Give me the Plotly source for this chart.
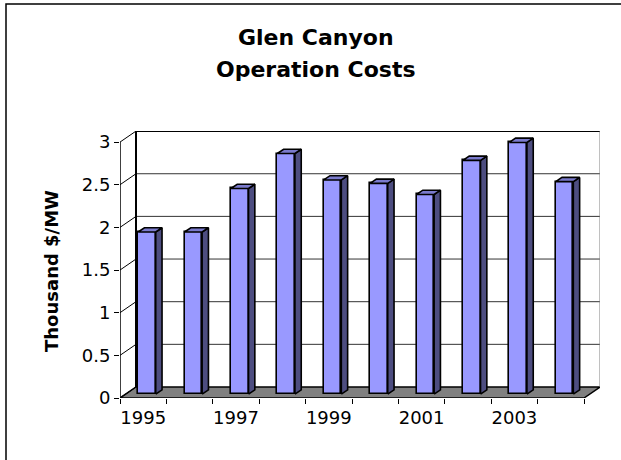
import plotly.graph_objects as go

# ---- data ----
years = ["1995", "1996", "1997", "1998", "1999", "2000", "2001", "2002", "2003", "2004"]
costs = [1.90, 1.90, 2.41, 2.82, 2.51, 2.47, 2.34, 2.74, 2.95, 2.49]
y_ticks = [0, 0.5, 1, 1.5, 2, 2.5, 3]
label_years = ["1995", "1997", "1999", "2001", "2003"]

# ---- 3D-look geometry (style constants, in axis units) ----
DX, DY = 0.345, 0.129          # depth of floor / walls
FX, FY = 0.124, 0.046          # front plane of the bars
BDX, BDY = 0.136, 0.050        # depth of each bar
BAR_W = 0.38
BAR_LEFT = 0.39                # offset of bar front face from category start

n = len(years)
idx = list(range(n))
ymax = y_ticks[-1]

FONT = "DejaVu Sans"
fig = go.Figure()

# front faces as real bars
centers = [i - 0.5 + BAR_LEFT + BAR_W / 2 for i in idx]
fig.add_trace(go.Bar(
    x=centers, y=costs, base=FY, width=BAR_W,
    marker=dict(color="#9999FF", line=dict(color="black", width=1.6)),
    hoverinfo="skip", showlegend=False))

# side and top faces computed from the same values
sx, sy, tx, ty = [], [], [], []
for c, v in zip(centers, costs):
    xl, xr = c - BAR_W / 2, c + BAR_W / 2
    top = FY + v
    sx += [xr, xr + BDX, xr + BDX, xr, xr, None]
    sy += [FY, FY + BDY, top + BDY, top, FY, None]
    tx += [xl, xr, xr + BDX, xl + BDX, xl, None]
    ty += [top, top, top + BDY, top + BDY, top, None]
fig.add_trace(go.Scatter(x=sx, y=sy, mode="lines", fill="toself", fillcolor="#4d4d80",
                         line=dict(color="black", width=1.6), hoverinfo="skip", showlegend=False))
fig.add_trace(go.Scatter(x=tx, y=ty, mode="lines", fill="toself", fillcolor="#7a7acc",
                         line=dict(color="black", width=1.6), hoverinfo="skip", showlegend=False))

# ---- walls, floor, gridlines as shapes (below traces) ----
x0, x1 = -0.5, n - 0.5
shapes = []
# floor
shapes.append(dict(type="path", xref="x", yref="y", layer="below",
                   path=f"M {x0},0 L {x1},0 L {x1+DX},{DY} L {x0+DX},{DY} Z",
                   fillcolor="#808080", line=dict(color="black", width=1.5)))
# back-wall gridlines and left-wall diagonals
for v in y_ticks:
    if 0 < v < ymax:
        shapes.append(dict(type="line", xref="x", yref="y", layer="below",
                           x0=x0 + DX, x1=x1 + DX, y0=v + DY, y1=v + DY,
                           line=dict(color="#333333", width=1)))
    shapes.append(dict(type="line", xref="x", yref="y", layer="below",
                       x0=x0, x1=x0 + DX, y0=v, y1=v + DY,
                       line=dict(color="black", width=1)))
# back wall top and left edge
shapes.append(dict(type="line", xref="x", yref="y", layer="below",
                   x0=x0 + DX, x1=x1 + DX, y0=ymax + DY, y1=ymax + DY,
                   line=dict(color="black", width=2)))
shapes.append(dict(type="line", xref="x", yref="y", layer="below",
                   x0=x0 + DX, x1=x0 + DX, y0=DY, y1=ymax + DY,
                   line=dict(color="black", width=2)))
# back wall right edge
shapes.append(dict(type="line", xref="x", yref="y", layer="below",
                   x0=x1 + DX, x1=x1 + DX, y0=DY, y1=ymax + DY,
                   line=dict(color="#808080", width=1)))
# front value axis
shapes.append(dict(type="line", xref="x", yref="y", layer="below",
                   x0=x0, x1=x0, y0=0, y1=ymax, line=dict(color="black", width=1.5)))
# chart border (top and left visible)
shapes.append(dict(type="rect", xref="paper", yref="paper", layer="below",
                   x0=(6 - 120) / 480, x1=(640 - 120) / 480,
                   y0=(398 - 480) / 267, y1=(398 - 4) / 267,
                   line=dict(color="black", width=1.5)))

annotations = [
    dict(text="<b>Glen Canyon</b>", xref="paper", yref="paper",
         x=(316 - 120) / 480, y=(398 - 37.4) / 267, xanchor="center", yanchor="middle",
         showarrow=False, font=dict(family=FONT, size=22, color="black")),
    dict(text="<b>Operation Costs</b>", xref="paper", yref="paper",
         x=(316 - 120) / 480, y=(398 - 69.4) / 267, xanchor="center", yanchor="middle",
         showarrow=False, font=dict(family=FONT, size=22, color="black")),
    dict(text="<b>Thousand $/MW</b>", xref="paper", yref="paper", textangle=-90,
         x=(51 - 120) / 480, y=(398 - 271) / 267, xanchor="center", yanchor="middle",
         showarrow=False, font=dict(family=FONT, size=18, color="black")),
]

fig.update_layout(
    width=621, height=460,
    margin=dict(l=120, r=21, t=131, b=62),
    paper_bgcolor="white", plot_bgcolor="white",
    shapes=shapes, annotations=annotations,
    showlegend=False, bargap=0, hovermode=False,
    font=dict(family=FONT, size=18, color="black"),
)
fig.update_xaxes(
    range=[-0.5, -0.5 + 480 / 46.4], showgrid=False, zeroline=False, showline=False,
    tickmode="array", tickvals=[years.index(y) for y in label_years], ticktext=label_years,
    ticks="", ticklabelstandoff=7,
    minor=dict(tickmode="array", tickvals=[i - 0.5 for i in range(n + 1)],
               ticks="outside", ticklen=5, tickcolor="black", tickwidth=1, showgrid=False),
    tickfont=dict(family=FONT, size=18, color="black"), fixedrange=True,
)
fig.update_yaxes(
    range=[0, 3.13], showgrid=False, zeroline=False, showline=False,
    tickmode="array", tickvals=y_ticks, ticktext=[f"{v:g}" for v in y_ticks],
    ticks="outside", ticklen=5, tickcolor="black", tickwidth=1,
    tickfont=dict(family=FONT, size=18, color="black"), fixedrange=True,
)

fig.write_html("out.html", config={"displayModeBar": False},
               post_script="document.body.style.margin='0';")
